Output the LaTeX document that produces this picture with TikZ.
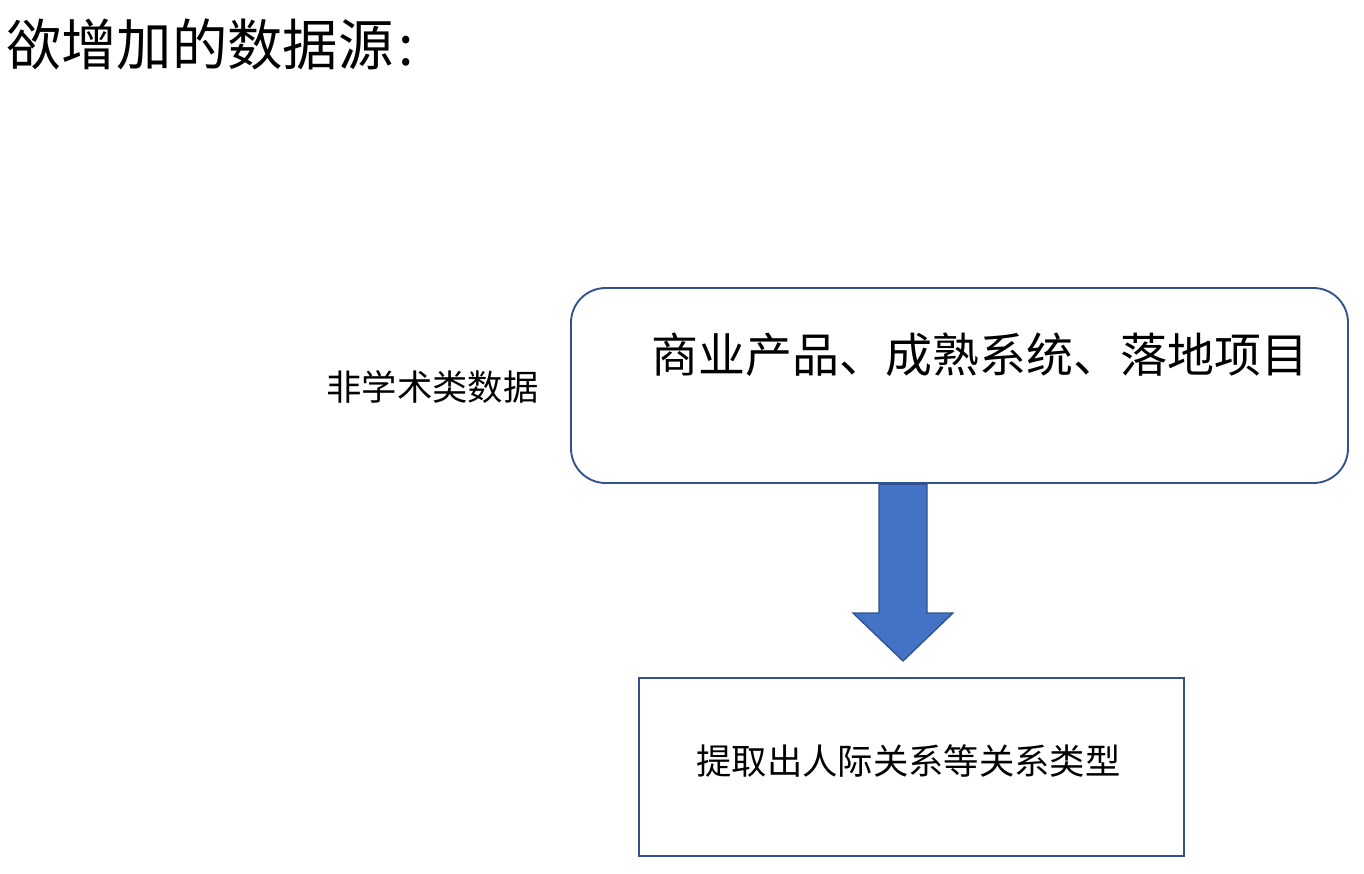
\documentclass[tikz,border=0pt]{standalone}
\usepackage{fontspec}
\newfontfamily\cjk{Noto Sans CJK SC}
\definecolor{bordblue}{HTML}{2F528F}
\definecolor{fillblue}{HTML}{4472C4}
\begin{document}
\begin{tikzpicture}[x=0.75pt,y=-0.75pt,
  boxline/.style={draw=bordblue,line width=1.4pt,fill=white,inner sep=0pt},
  txt/.style={inner sep=0pt,font=\cjk}]
\useasboundingbox (0,0) rectangle (1364,874);
\node[txt,anchor=west,font=\cjk\fontsize{41.5}{48}\selectfont] (title) at (6,44) {欲增加的数据源\kern4pt:};
\node[boxline,rounded corners=26pt,minimum width=777*0.75pt,minimum height=195*0.75pt] (src) at (959.5,385.5) {};
\node[txt,anchor=west,font=\cjk\fontsize{35.2}{42}\selectfont] (srctext) at (651,355) {商业产品、成熟系统、落地项目};
\node[txt,font=\cjk\fontsize{26.5}{32}\selectfont] (left) at (432.5,387) {非学术类数据};
\node[boxline,minimum width=545*0.75pt,minimum height=178*0.75pt] (res) at (911.5,767) {};
\node[txt,font=\cjk\fontsize{26.5}{32}\selectfont] (restext) at (908.5,761) {提取出人际关系等关系类型};
\coordinate (tip) at (903,661);
\draw[draw=bordblue,fill=fillblue,line width=1pt,line join=miter]
  (src.south -| 879,0) -- (879,613) -- (853,613) -- (tip) -- (953,613) -- (927,613) -- (src.south -| 927,0) -- cycle;
\draw[bordblue,line width=1.4pt] (src.south -| 879,0) -- (src.south -| 927,0);
\end{tikzpicture}
\end{document}
